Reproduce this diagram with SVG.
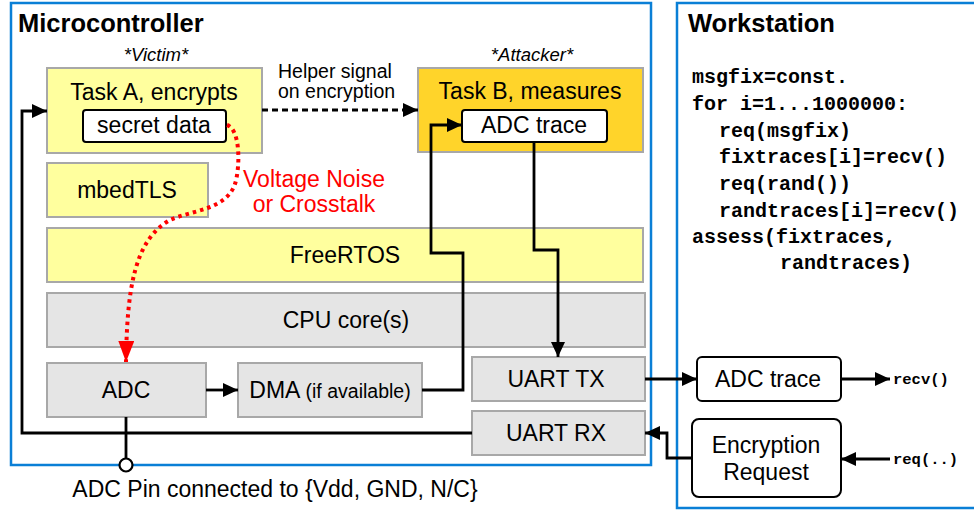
<svg xmlns="http://www.w3.org/2000/svg" width="974" height="511" viewBox="0 0 974 511">
<style>
text{font-family:"Liberation Sans",Arial,sans-serif;fill:#000}
.lbl{font-size:23px;text-anchor:middle}
.ttl{font-size:25.5px;font-weight:bold}
.it{font-size:18.5px;font-style:italic;text-anchor:middle}
.code{font-family:"Liberation Mono","Courier New",monospace;font-size:20px;font-weight:bold}
.small{font-family:"Liberation Mono","Courier New",monospace;font-size:15.5px;font-weight:bold}
.frame{fill:#fff;stroke:#0a7fd6;stroke-width:2.5}
.yel{fill:#ffff9e;stroke:#a8a8a8;stroke-width:2}
.gold{fill:#ffd42a;stroke:#a8a8a8;stroke-width:2}
.gray{fill:#e5e5e5;stroke:#a8a8a8;stroke-width:2}
.wbox{fill:#fff;stroke:#000;stroke-width:2}
.ln{fill:none;stroke:#000;stroke-width:2.8}
</style>
<defs>
<marker id="ah" markerUnits="userSpaceOnUse" markerWidth="16" markerHeight="14" refX="15" refY="7" orient="auto"><path d="M0,0 L15,7 L0,14 z" fill="#000"/></marker>
<marker id="ahr" markerUnits="userSpaceOnUse" markerWidth="22" markerHeight="16" refX="21" refY="8" orient="auto"><path d="M0,0 L21,8 L0,16 z" fill="#ff0000"/></marker>
</defs>
<g id="microcontroller">
<rect class="frame" x="11" y="3" width="640" height="462"/>
<text class="ttl" x="18" y="32">Microcontroller</text>
</g>
<g id="workstation">
<rect class="frame" x="677" y="3" width="310" height="505"/>
<text class="ttl" x="688" y="32">Workstation</text>
<text class="code" x="692" y="83">msgfix=const.</text>
<text class="code" x="692" y="110">for i=1...1000000:</text>
<text class="code" x="719" y="137">req(msgfix)</text>
<text class="code" x="719" y="163">fixtraces[i]=recv()</text>
<text class="code" x="719" y="190">req(rand())</text>
<text class="code" x="719" y="217">randtraces[i]=recv()</text>
<text class="code" x="692" y="243">assess(fixtraces,</text>
<text class="code" x="780" y="269">randtraces)</text>
</g>
<g id="taskA">
<text class="it" x="156" y="61">*Victim*</text>
<rect class="yel" x="47" y="68" width="215" height="85"/>
<text class="lbl" x="154" y="100">Task A, encrypts</text>
</g>
<g id="secretData">
<rect class="wbox" x="83" y="110" width="143" height="32" rx="3"/>
<text class="lbl" x="154" y="133">secret data</text>
</g>
<g id="taskB">
<text class="it" x="532" y="61">*Attacker*</text>
<rect class="gold" x="418" y="68" width="225" height="84"/>
<text class="lbl" x="530" y="99">Task B, measures</text>
</g>
<g id="adcTraceMcu">
<rect class="wbox" x="462" y="110" width="145" height="32" rx="3"/>
<text class="lbl" x="534" y="133">ADC trace</text>
</g>
<g id="mbedTLS">
<rect class="yel" x="47" y="163" width="161" height="54"/>
<text class="lbl" x="127" y="198">mbedTLS</text>
</g>
<g id="freeRTOS">
<rect class="yel" x="47" y="228" width="596" height="54"/>
<text class="lbl" x="345" y="263">FreeRTOS</text>
</g>
<g id="cpu">
<rect class="gray" x="47" y="293" width="598" height="54"/>
<text class="lbl" x="346" y="328">CPU core(s)</text>
</g>
<g id="adc">
<rect class="gray" x="47" y="363" width="159" height="54"/>
<text class="lbl" x="126" y="398">ADC</text>
</g>
<g id="dma">
<rect class="gray" x="238" y="363" width="184" height="54"/>
<text x="330" y="398" style="font-size:23px;text-anchor:middle">DMA <tspan style="font-size:19.5px">(if available)</tspan></text>
</g>
<g id="uartTX">
<rect class="gray" x="472" y="357" width="173" height="44"/>
<text class="lbl" x="556" y="387">UART TX</text>
</g>
<g id="uartRX">
<rect class="gray" x="472" y="411" width="173" height="44"/>
<text class="lbl" x="556" y="441">UART RX</text>
</g>
<g id="adcTraceWs">
<rect class="wbox" x="697" y="357" width="144" height="44" rx="5"/>
<text class="lbl" x="768" y="387">ADC trace</text>
</g>
<g id="encReq">
<rect class="wbox" x="692" y="419" width="149" height="78" rx="7"/>
<text class="lbl" x="766" y="453">Encryption</text>
<text class="lbl" x="766" y="480">Request</text>
</g>
<g id="adcPin">
<circle cx="126" cy="465" r="6.5" fill="#fff" stroke="#000" stroke-width="2.2"/>
<text class="lbl" x="275" y="497">ADC Pin connected to {Vdd, GND, N/C}</text>
</g>
<g id="connectors">
<path class="ln" d="M262,110 H418" stroke-dasharray="6,4" marker-end="url(#ah)"/>
<text x="278" y="78" style="font-size:19.5px">Helper signal</text>
<text x="278" y="98" style="font-size:19.5px">on encryption</text>
<path d="M227,125 C241,130 240,168 235,184 C226,210 192,210 170,220 C134,240 127,290 126,362" fill="none" stroke="#ff0000" stroke-width="4" stroke-dasharray="3.5,4" marker-end="url(#ahr)"/>
<text x="314" y="187" style="font-size:23px;fill:#ff0000;text-anchor:middle">Voltage Noise</text>
<text x="314" y="212" style="font-size:23px;fill:#ff0000;text-anchor:middle">or Crosstalk</text>
<path class="ln" d="M206,390 H238" marker-end="url(#ah)"/>
<path class="ln" d="M422,390 H463 V253 H431 V125 H462" marker-end="url(#ah)"/>
<path class="ln" d="M534,142 V250 H558 V357" marker-end="url(#ah)"/>
<path class="ln" d="M645,379 H697" marker-end="url(#ah)"/>
<path class="ln" d="M841,379 H890" marker-end="url(#ah)"/>
<text class="small" x="893" y="384">recv()</text>
<path class="ln" d="M890,459 H841" marker-end="url(#ah)"/>
<text class="small" x="893" y="464">req(..)</text>
<path class="ln" d="M692,458 H667 V433 H645" marker-end="url(#ah)"/>
<path class="ln" d="M472,433 H22 V111 H47" marker-end="url(#ah)"/>
<path class="ln" d="M126,417 V458"/>
</g>
</svg>
